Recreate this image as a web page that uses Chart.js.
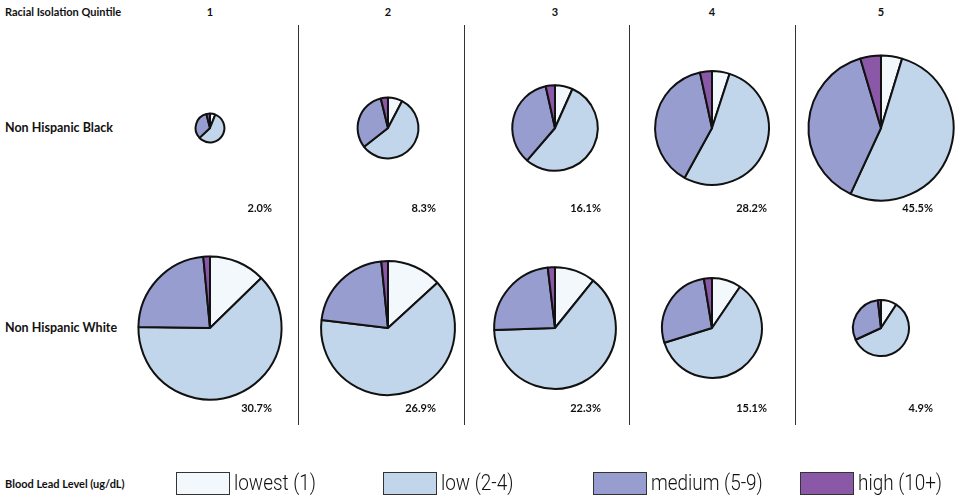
<!DOCTYPE html>
<html>
<head>
<meta charset="utf-8">
<script src="https://cdn.jsdelivr.net/npm/chart.js@4.4.0/dist/chart.umd.min.js"></script>
<style>
  html, body { margin: 0; padding: 0; background: #ffffff; }
  #wrap { position: relative; width: 960px; height: 499px; overflow: hidden; font-family: Lato, "Open Sans", sans-serif; color: #111; }
  .lbl { position: absolute; font-weight: bold; font-size: 11px; white-space: nowrap; line-height: 12px; }
  .row { font-size: 12.5px; line-height: 14px; }
  .hdr { transform: translateX(-50%); }
  .pct { transform: translateX(-100%); }
  .div { position: absolute; width: 1px; background: #333; top: 25px; height: 400px; }
  canvas.pie { position: absolute; }
  .lgbox { position: absolute; width: 54px; height: 23px; border: 1px solid #333; box-sizing: border-box; }
  .lgtxt { position: absolute; font-family: Roboto, sans-serif; font-weight: 300; font-size: 22px; line-height: 26px; white-space: nowrap; color: #111; transform: scaleX(0.86); transform-origin: left center; }
</style>
</head>
<body>
<div id="wrap"></div>
<script>
// ---- data ----
const quintiles = ['1', '2', '3', '4', '5'];
const groups = ['Non Hispanic Black', 'Non Hispanic White'];
const levels = ['lowest (1)', 'low (2-4)', 'medium (5-9)', 'high (10+)'];
// share of each group living in each quintile (%)
const blackShare = [2.0, 8.3, 16.1, 28.2, 45.5];
const whiteShare = [30.7, 26.9, 22.3, 15.1, 4.9];
// blood lead level distribution in each quintile (% lowest, low, medium, high)
const blackLevels = [
  [6.0, 57.0, 33.0, 4.0],
  [7.7, 56.7, 31.8, 3.8],
  [6.7, 54.6, 35.2, 3.5],
  [5.0, 53.0, 38.6, 3.4],
  [4.7, 52.2, 38.5, 4.6]
];
const whiteLevels = [
  [12.7, 62.5, 23.3, 1.5],
  [13.2, 63.7, 21.5, 1.6],
  [10.8, 63.7, 23.6, 1.9],
  [9.5, 60.7, 27.2, 2.6],
  [9.2, 58.9, 30.1, 1.8]
];

// ---- styling / layout ----
const colors = ['#f3f8fd', '#c1d6ea', '#979dcf', '#8a58a6'];
const colCenters = [210, 388, 555, 712, 881];
const rowCenters = [128, 328];
const dividers = [298, 464, 629, 795];
const pctRight = [272, 436, 601, 767, 933];
const rowScale = [10.9, 13.1]; // radius = scale * sqrt(share)
const cw = 170, ch = 196;

const wrap = document.getElementById('wrap');
function addDiv(cls, text, css) {
  const d = document.createElement('div');
  d.className = cls;
  if (text !== null) d.textContent = text;
  Object.assign(d.style, css);
  wrap.appendChild(d);
  return d;
}

addDiv('lbl', 'Racial Isolation Quintile', { left: '5px', top: '6px' });
quintiles.forEach((q, i) => addDiv('lbl hdr', q, { left: colCenters[i] + 'px', top: '6px' }));
dividers.forEach(x => addDiv('div', null, { left: x + 'px' }));
groups.forEach((g, r) => addDiv('lbl row', g, { left: '5px', top: (rowCenters[r] - 7) + 'px' }));

const shares = [blackShare, whiteShare];
const dists = [blackLevels, whiteLevels];
for (let r = 0; r < 2; r++) {
  for (let c = 0; c < 5; c++) {
    const cv = document.createElement('canvas');
    cv.className = 'pie';
    cv.width = cw; cv.height = ch;
    cv.style.left = (colCenters[c] - cw / 2) + 'px';
    cv.style.top = (rowCenters[r] - ch / 2) + 'px';
    cv.style.width = cw + 'px'; cv.style.height = ch + 'px';
    wrap.appendChild(cv);
    new Chart(cv, {
      type: 'pie',
      data: {
        labels: levels,
        datasets: [{
          data: dists[r][c],
          backgroundColor: colors,
          borderColor: '#111',
          borderWidth: 2,
          hoverOffset: 0,
          radius: rowScale[r] * Math.sqrt(shares[r][c]) - 1
        }]
      },
      options: {
        responsive: false,
        animation: false,
        layout: { padding: 0 },
        plugins: { legend: { display: false }, tooltip: { enabled: false } },
        events: []
      }
    });
    addDiv('lbl pct', shares[r][c].toFixed(1) + '%', { left: pctRight[c] + 'px', top: (rowCenters[r] + 74) + 'px' });
  }
}

// legend
addDiv('lbl', 'Blood Lead Level (ug/dL)', { left: '5px', top: '478px' });
const lgBoxX = [176, 383, 593, 800];
levels.forEach((l, i) => {
  addDiv('lgbox', null, { left: lgBoxX[i] + 'px', top: '472px', background: colors[i] });
  addDiv('lgtxt', l, { left: (lgBoxX[i] + 58) + 'px', top: '470px' });
});
</script>
</body>
</html>
